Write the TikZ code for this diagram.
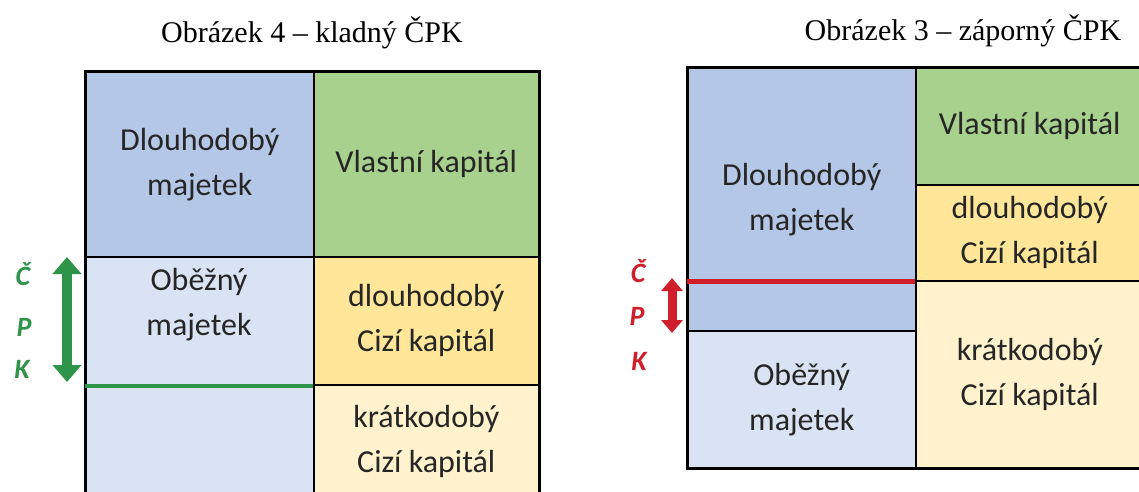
\documentclass[tikz,border=0pt]{standalone}
\usepackage{fontspec}
\setmainfont{Liberation Serif}
\newfontfamily\cellfont{Carlito}
\usetikzlibrary{arrows.meta}
\definecolor{dblue}{HTML}{B4C7E7}
\definecolor{lblue}{HTML}{DAE3F3}
\definecolor{vgreen}{HTML}{A9D18E}
\definecolor{dyel}{HTML}{FFE699}
\definecolor{lyel}{HTML}{FFF2CC}
\definecolor{cpkgreen}{HTML}{2E9449}
\definecolor{cpkred}{HTML}{D01F2A}
\definecolor{txt}{HTML}{262626}
\begin{document}
\begin{tikzpicture}[x=1pt,y=-1pt,
  cell/.style={draw=black, line width=1.5pt, inner sep=0pt, align=center, anchor=north west,
    font=\cellfont\fontsize{32}{45}\selectfont, text=txt},
  celltext/.style={inner sep=0pt, align=center, font=\cellfont\fontsize{32}{45}\selectfont, text=txt},
  titletext/.style={inner sep=0pt, font=\fontsize{30}{34}\selectfont},
  border/.style={draw=black, line width=3pt},
  cpkletter/.style={inner sep=0pt, font=\cellfont\bfseries\itshape\fontsize{28}{30}\selectfont},
  biarrow/.style={line width=10pt, {Triangle[width=28pt,length=17pt]}-{Triangle[width=28pt,length=17pt]}},
  smallbiarrow/.style={line width=9pt, {Triangle[width=21pt,length=13pt]}-{Triangle[width=21pt,length=13pt]}}
]
\useasboundingbox (0,0) rectangle (1139,491);
\fill[white] (0,0) rectangle (1139,491);
\begin{scope}
\clip (0,0) rectangle (1139,491);
% ---------- left diagram ----------
\node[cell, fill=dblue, minimum width=228pt, minimum height=185pt] (ldm) at (85,71) {Dlouhodobý\\majetek};
\node[cell, fill=vgreen, minimum width=225pt, minimum height=185pt] (lvk) at (313,71) {Vlastní kapitál};
\node[cell, fill=lblue, minimum width=228pt, minimum height=241pt] (lom) at (85,256) {};
\node[cell, fill=dyel, minimum width=225pt, minimum height=128pt] (ldc) at (313,256) {dlouhodobý\\Cizí kapitál};
\node[cell, fill=lyel, minimum width=225pt, minimum height=113pt] (lkc) at (313,384) {krátkodobý\\Cizí kapitál};
\node[celltext] (lomt) at (199,305) {Oběžný\\majetek};
\draw[border] (ldm.north west) rectangle (lkc.south east);
\draw[cpkgreen, line width=4pt] (lom.west |- ldc.south) -- (ldc.south west);
\coordinate (lga) at (67,257);
\coordinate (lgb) at (67,382);
\draw[cpkgreen, biarrow] (lga) -- (lgb);
\node[cpkletter, text=cpkgreen] (lc) at (23,274) {Č};
\node[cpkletter, text=cpkgreen] (lp) at (24,327) {P};
\node[cpkletter, text=cpkgreen] (lk) at (22,369) {K};
\node[titletext] (lt) at (312,33) {Obrázek 4 – kladný ČPK};
% ---------- right diagram ----------
\node[cell, fill=dblue, minimum width=228pt, minimum height=263pt] (rdm) at (687,67) {Dlouhodobý\\majetek};
\node[cell, fill=lblue, minimum width=228pt, minimum height=137pt] (rom) at (687,330) {Oběžný\\majetek};
\node[cell, fill=vgreen, minimum width=228pt, minimum height=117pt] (rvk) at (915,67) {Vlastní kapitál};
\node[cell, fill=dyel, minimum width=228pt, minimum height=96pt] (rdc) at (915,184) {dlouhodobý\\Cizí kapitál};
\node[cell, fill=lyel, minimum width=228pt, minimum height=187pt] (rkc) at (915,280) {krátkodobý\\Cizí kapitál};
\draw[border] (rdm.north west) rectangle (rkc.south east);
\draw[cpkred, line width=5pt] (rdm.west |- rdc.south) -- (rdc.south west);
\coordinate (rra) at (672,278);
\coordinate (rrb) at (672,333);
\draw[cpkred, smallbiarrow] (rra) -- (rrb);
\node[cpkletter, text=cpkred] (rc) at (638,271) {Č};
\node[cpkletter, text=cpkred] (rp) at (637,316) {P};
\node[cpkletter, text=cpkred] (rk) at (639,361) {K};
\node[titletext] (rt) at (963,31) {Obrázek 3 – záporný ČPK};
\end{scope}
\end{tikzpicture}
\end{document}
